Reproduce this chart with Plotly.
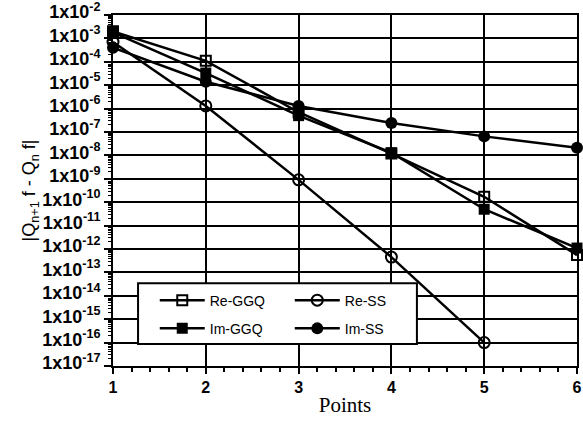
import plotly.graph_objects as go

points = [1, 2, 3, 4, 5, 6]
re_ggq = [2.0e-3, 1.1e-4, 7.0e-7, 1.2e-8, 1.7e-10, 5.5e-13]
im_ggq = [1.8e-3, 3.3e-5, 5.0e-7, 1.3e-8, 5.0e-11, 1.1e-12]
re_ss_points = [1, 2, 3, 4, 5]
re_ss = [7.0e-4, 1.3e-6, 9.0e-10, 4.5e-13, 1.0e-16]
im_ss = [4.0e-4, 1.4e-5, 1.3e-6, 2.4e-7, 6.5e-8, 2.1e-8]

exps = list(range(-17, -1))
ytickvals = [10.0 ** e for e in exps]
yticktext = ["1x10<sup>%d</sup>" % e for e in exps]
yminor = [m * 10.0 ** e for e in range(-17, -2) for m in range(2, 10)]

line = dict(color="black", width=2.5)
fig = go.Figure()
fig.add_trace(go.Scatter(x=points, y=re_ggq, name="Re-GGQ", mode="lines+markers", line=line,
                         legend="legend", legendgroup="a", cliponaxis=False,
                         marker=dict(symbol="square-open", size=10, color="black", line=dict(width=2))))
fig.add_trace(go.Scatter(x=points, y=im_ggq, name="Im-GGQ", mode="lines+markers", line=line,
                         legend="legend", legendgroup="b", cliponaxis=False,
                         marker=dict(symbol="square", size=11, color="black")))
fig.add_trace(go.Scatter(x=re_ss_points, y=re_ss, name="Re-SS", mode="lines+markers", line=line,
                         legend="legend2", legendgroup="c", cliponaxis=False,
                         marker=dict(symbol="circle-open", size=11, color="black", line=dict(width=2))))
fig.add_trace(go.Scatter(x=points, y=im_ss, name="Im-SS", mode="lines+markers", line=line,
                         legend="legend2", legendgroup="d", cliponaxis=False,
                         marker=dict(symbol="circle", size=12, color="black")))

legfont = dict(family="Liberation Sans, Arial, sans-serif", size=14, color="black")
legcommon = dict(orientation="v", xanchor="left", yanchor="top", bgcolor="rgba(0,0,0,0)",
                 borderwidth=0, font=legfont, tracegroupgap=7, itemwidth=45, traceorder="grouped")

narrow = "Liberation Sans Narrow, Arial Narrow, Liberation Sans, Arial, sans-serif"

fig.update_layout(
    width=583, height=423,
    margin=dict(l=113, r=6, t=15, b=57),
    paper_bgcolor="white", plot_bgcolor="white",
    showlegend=True,
    legend=dict(x=0.09, y=0.232, **legcommon),
    legend2=dict(x=0.381, y=0.232, **legcommon),
    shapes=[dict(type="rect", xref="paper", yref="paper", x0=0.054, x1=0.655, y0=0.063, y1=0.236,
                 fillcolor="white", line=dict(color="black", width=2), layer="above")],
    xaxis=dict(range=[1, 6], tickvals=points, ticktext=[str(p) for p in points],
               automargin=False, ticklabeloverflow="allow",
               showgrid=True, gridcolor="black", gridwidth=1.5,
               showline=True, linecolor="black", linewidth=2, mirror=True,
               ticks="outside", ticklen=6, tickwidth=2, tickcolor="black",
               tickfont=dict(family="Liberation Sans, Arial, sans-serif", size=16, color="black", weight="bold"),
               minor=dict(dtick=0.2, ticks="outside", ticklen=4, tickwidth=1.5, tickcolor="black", showgrid=False),
               title=dict(text="Points", font=dict(family="Liberation Serif, Times New Roman, serif", size=21, color="black"),
                          standoff=2),
               zeroline=False),
    yaxis=dict(type="log", range=[-17, -2], tickvals=ytickvals, ticktext=yticktext,
               automargin=False, ticklabeloverflow="allow", ticklabelshift=-3,
               showgrid=True, gridcolor="black", gridwidth=1.5,
               showline=True, linecolor="black", linewidth=2, mirror=True,
               ticks="outside", ticklen=7, tickwidth=2, tickcolor="black",
               tickfont=dict(family=narrow, size=18, color="black", weight="bold"),
               minor=dict(tickvals=yminor, ticks="outside", ticklen=3, tickwidth=1, tickcolor="black", showgrid=False),
               title=dict(text="|Q<sub>n+1</sub> f - Q<sub>n</sub> f|",
                          font=dict(family="Liberation Sans, Arial, sans-serif", size=18, color="black"),
                          standoff=2),
               zeroline=False),
)

fig.write_html("out.html", config={"displayModeBar": False},
               post_script="document.body.style.margin='0';document.body.style.overflow='hidden';")
